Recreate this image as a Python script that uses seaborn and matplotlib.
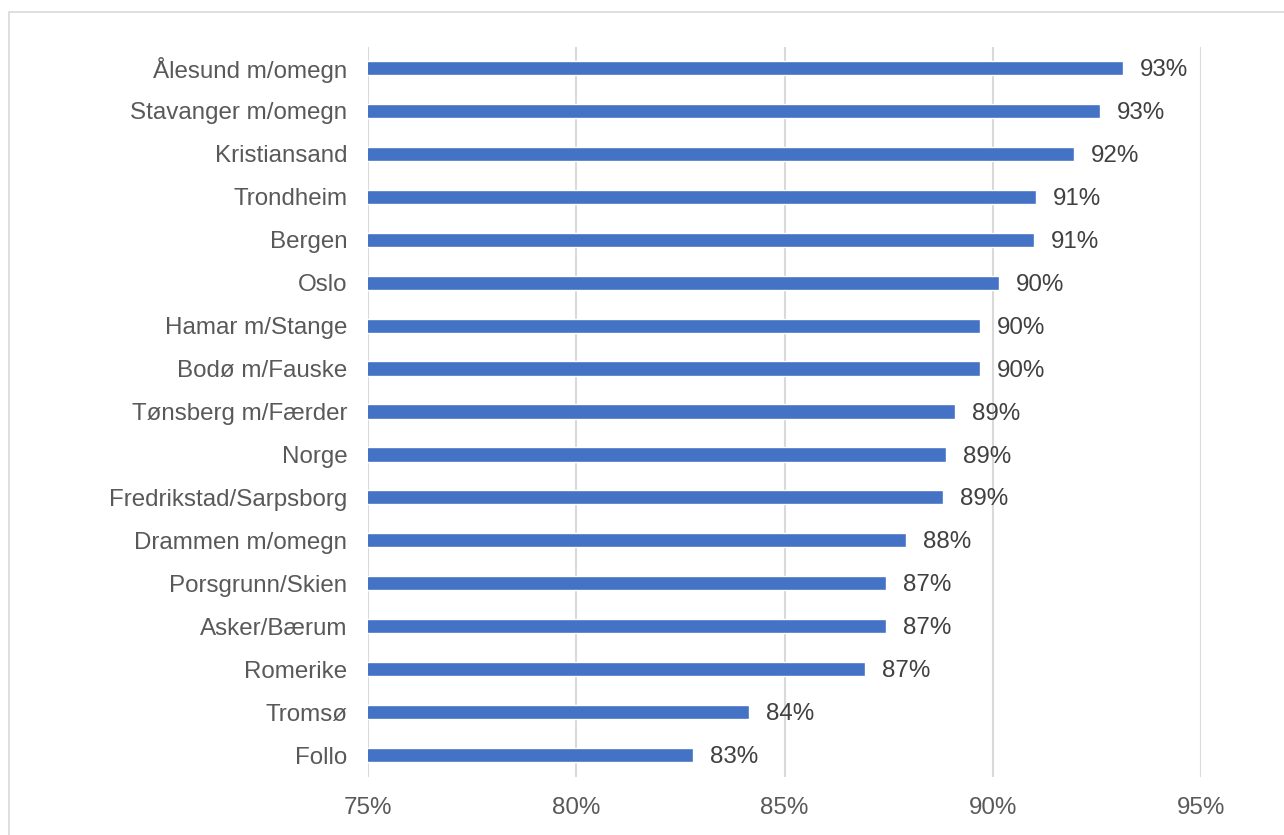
import matplotlib
matplotlib.use("Agg")
import matplotlib.pyplot as plt
from matplotlib.patches import Rectangle
import seaborn as sns
import pandas as pd

regions = [
    "Ålesund m/omegn", "Stavanger m/omegn", "Kristiansand", "Trondheim",
    "Bergen", "Oslo", "Hamar m/Stange", "Bodø m/Fauske", "Tønsberg m/Færder",
    "Norge", "Fredrikstad/Sarpsborg", "Drammen m/omegn", "Porsgrunn/Skien",
    "Asker/Bærum", "Romerike", "Tromsø", "Follo",
]
shares = [
    93.13, 92.57, 91.95, 91.04, 90.99, 90.15, 89.69, 89.69, 89.09,
    88.88, 88.81, 87.92, 87.44, 87.44, 86.93, 84.15, 82.80,
]
x_ticks = [75, 80, 85, 90, 95]

sns.set_theme(style="white")
plt.rcParams["font.family"] = ["Liberation Sans", "DejaVu Sans"]

df = pd.DataFrame({"region": regions, "share": shares})

W, H = 1284, 835
fig = plt.figure(figsize=(W / 100, H / 100), dpi=100)
ax = fig.add_axes([368 / W, 1 - 776.5 / H, (1201 - 368) / W, (776.5 - 46.5) / H])

# light frame around the chart area
fig.patches.append(Rectangle((9 / W, -0.1), 1.2, 1.1 - 12 / H, transform=fig.transFigure,
                             fill=False, edgecolor="#D9D9D9", linewidth=1.2, zorder=0))

sns.barplot(data=df, x="share", y="region", orient="h", color="#4472C4",
            saturation=1, width=0.33, ax=ax, zorder=3)

ax.set_xlim(75, 95)
ax.set_ylim(len(regions) - 0.5, -0.5)
ax.set_xticks(x_ticks)
ax.set_xticklabels([f"{t}%" for t in x_ticks])
for t in x_ticks:
    ax.axvline(t, color="#D9D9D9", linewidth=1.5, zorder=1)

FS = 17.4
for i, v in enumerate(shares):
    ax.annotate(f"{v:.0f}%", xy=(v, i), xytext=(12, -1.5), textcoords="offset points",
                ha="left", va="center", fontsize=FS, color="#404040")

ax.set_xlabel("")
ax.set_ylabel("")
ax.tick_params(axis="x", length=0, pad=14.5, labelsize=FS, labelcolor="#595959")
ax.tick_params(axis="y", length=0, pad=15, labelsize=FS, labelcolor="#595959")
for s in ax.spines.values():
    s.set_visible(False)

fig.savefig("out.png", dpi=100, facecolor="white")
